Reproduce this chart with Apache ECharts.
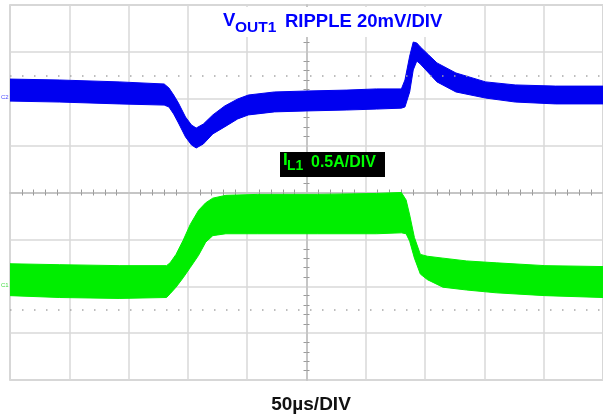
<!DOCTYPE html>
<html><head><meta charset="utf-8">
<script src="https://cdn.jsdelivr.net/npm/echarts@6/dist/echarts.min.js"></script>
<style>html,body{margin:0;padding:0;background:#fff}#c{width:603px;height:414px}</style>
</head><body><div id="c"></div>
<script>
// Time in µs (50 µs/div, 0 = screen centre)
const voutTime   = [-250,-208,-158,-120,-116,-112,-108,-102,-97,-93,-87,-79,-69,-58,-49,-27,0,34,59,80,83,87,90,93,96,103,110,126,151,176,210,250];
// VOUT1 ripple envelope, mV (20 mV/div) relative to channel marker
const voutTop    = [8.4,8.0,7.2,6.3,4.6,1.6,-1.8,-7.8,-11.2,-12.5,-10.8,-6.9,-3.1,-0.1,1.6,2.9,3.3,3.7,4.2,4.2,8.0,18.2,24.2,23.8,22.1,18.7,15.3,11.0,7.2,5.9,5.4,5.4];
const voutBottom = [-1.0,-1.4,-2.2,-2.7,-3.5,-6.5,-10.3,-16.3,-19.7,-21.0,-19.3,-15.0,-12.0,-8.6,-6.9,-5.6,-5.2,-4.8,-4.4,-4.0,-3.5,2.9,12.3,16.1,14.8,11.0,7.2,2.9,0.3,-1.4,-2.2,-2.2];
// IL1 inductor current envelope, A (0.5 A/div) relative to channel marker
const ilTime   = [-250,-208,-158,-118,-115,-110,-104,-98,-91,-85,-79,-68,-41,9,59,80,84,87,91,96,102,115,135,160,201,250];
const ilTop    = [0.24,0.23,0.22,0.22,0.25,0.34,0.49,0.66,0.81,0.89,0.94,0.97,0.98,0.98,0.99,1.00,0.92,0.76,0.52,0.34,0.32,0.30,0.27,0.25,0.22,0.21];
const ilBottom = [-0.10,-0.12,-0.13,-0.12,-0.08,-0.01,0.09,0.20,0.33,0.47,0.54,0.56,0.56,0.56,0.56,0.57,0.56,0.48,0.30,0.13,0.07,-0.01,-0.04,-0.07,-0.10,-0.12];
// Cursor levels (dotted lines)
const voutCursor = 10;    // mV
const ilCursor = -0.25;   // A

const BLUE = '#0000f0', GREEN = '#00ee00';
function band(time, top, bottom, name, color, yIdx, cursor) {
  return {
    type: 'custom', name, xAxisIndex: 0, yAxisIndex: yIdx, z: 3, silent: true, clip: true,
    data: time.map((t, i) => [t, top[i], bottom[i]]),
    encode: { x: 0, y: [1, 2] },
    renderItem: function (params, api) {
      if (params.dataIndex !== 0) return null;
      const pts = [];
      for (let i = 0; i < time.length; i++) pts.push(api.coord([time[i], top[i]]));
      for (let i = time.length - 1; i >= 0; i--) pts.push(api.coord([time[i], bottom[i]]));
      return { type: 'polygon', shape: { points: pts },
        style: { fill: color, stroke: color, lineWidth: 1 } };
    },
    markLine: { silent: true, symbol: 'none', label: { show: false },
      lineStyle: { type: [1.5, 10.5], color: '#a8a8a8', width: 1.5 }, data: [{ yAxis: cursor }] }
  };
}
const gridLine = { show: true, lineStyle: { color: '#d9d9d9', width: 1.5 } };
const centreLine = { show: true, onZero: true, onZeroAxisIndex: 0, lineStyle: { color: '#c4c4c4', width: 1.5 } };
const minor = { show: true, splitNumber: 5, length: 3, lineStyle: { color: '#9a9a9a', width: 1 } };

const chart = echarts.init(document.getElementById('c'), null, { renderer: 'canvas' });
chart.setOption({
  animation: false,
  backgroundColor: '#fff',
  grid: { left: 10, top: 5, width: 598, height: 375, show: true, borderColor: '#c6c6c6', borderWidth: 1.5, backgroundColor: 'transparent' },
  xAxis: [
    { type: 'value', min: -250, max: 250, interval: 50, position: 'bottom', axisLine: centreLine,
      axisTick: { show: false }, minorTick: minor, axisLabel: { show: false }, splitLine: gridLine },
    { type: 'value', min: -250, max: 250, interval: 50, position: 'top', axisLine: centreLine,
      axisTick: { show: false }, minorTick: minor, axisLabel: { show: false }, splitLine: { show: false } }
  ],
  yAxis: [
    { type: 'value', min: -4, max: 4, interval: 1, position: 'left', axisLine: centreLine,
      axisTick: { show: false }, minorTick: minor, axisLabel: { show: false }, splitLine: gridLine },
    { type: 'value', min: -4, max: 4, interval: 1, position: 'right', axisLine: centreLine,
      axisTick: { show: false }, minorTick: minor, axisLabel: { show: false }, splitLine: { show: false } },
    { type: 'value', min: -120, max: 40, interval: 20, show: false },
    { type: 'value', min: -1, max: 3, interval: 0.5, show: false }
  ],
  series: [
    band(voutTime, voutTop, voutBottom, 'VOUT1', BLUE, 2, voutCursor),
    band(ilTime, ilTop, ilBottom, 'IL1', GREEN, 3, ilCursor)
  ],
  graphic: [
    { type: 'rect', z: 100, shape: { x: 216, y: 7, width: 236, height: 30 }, style: { fill: '#fff' } },
    { type: 'text', z: 101, style: { x: 223, y: 21, text: 'V', font: 'bold 18.5px "Liberation Sans", Arial, sans-serif', fill: '#0000ff', verticalAlign: 'middle' } },
    { type: 'text', z: 101, style: { x: 235, y: 28, text: 'OUT1', font: 'bold 15.5px "Liberation Sans", Arial, sans-serif', fill: '#0000ff', verticalAlign: 'middle' } },
    { type: 'text', z: 101, style: { x: 285, y: 21.5, text: 'RIPPLE 20mV/DIV', font: 'bold 18.5px "Liberation Sans", Arial, sans-serif', fill: '#0000ff', verticalAlign: 'middle' } },
    { type: 'rect', z: 100, shape: { x: 280, y: 152, width: 105, height: 25 }, style: { fill: '#000' } },
    { type: 'text', z: 101, style: { x: 283, y: 160.5, text: 'I', font: 'bold 17px "Liberation Sans", Arial, sans-serif', fill: '#00ff00', verticalAlign: 'middle' } },
    { type: 'text', z: 101, style: { x: 287, y: 166, text: 'L1', font: 'bold 14px "Liberation Sans", Arial, sans-serif', fill: '#00ff00', verticalAlign: 'middle' } },
    { type: 'text', z: 101, style: { x: 311, y: 162.5, text: '0.5A/DIV', font: 'bold 16px "Liberation Sans", Arial, sans-serif', fill: '#00ff00', verticalAlign: 'middle' } },
    { type: 'text', z: 101, style: { x: 311, y: 405, text: '50µs/DIV', font: 'bold 19px "Liberation Sans", Arial, sans-serif', fill: '#111', align: 'center', verticalAlign: 'middle' } },
    { type: 'text', z: 101, style: { x: 1, y: 97, text: 'C2', font: '6px "Liberation Sans", Arial, sans-serif', fill: '#4a4aff', verticalAlign: 'middle' } },
    { type: 'text', z: 101, style: { x: 1, y: 285, text: 'C1', font: '6px "Liberation Sans", Arial, sans-serif', fill: '#44dd44', verticalAlign: 'middle' } }
  ]
});
</script></body></html>
